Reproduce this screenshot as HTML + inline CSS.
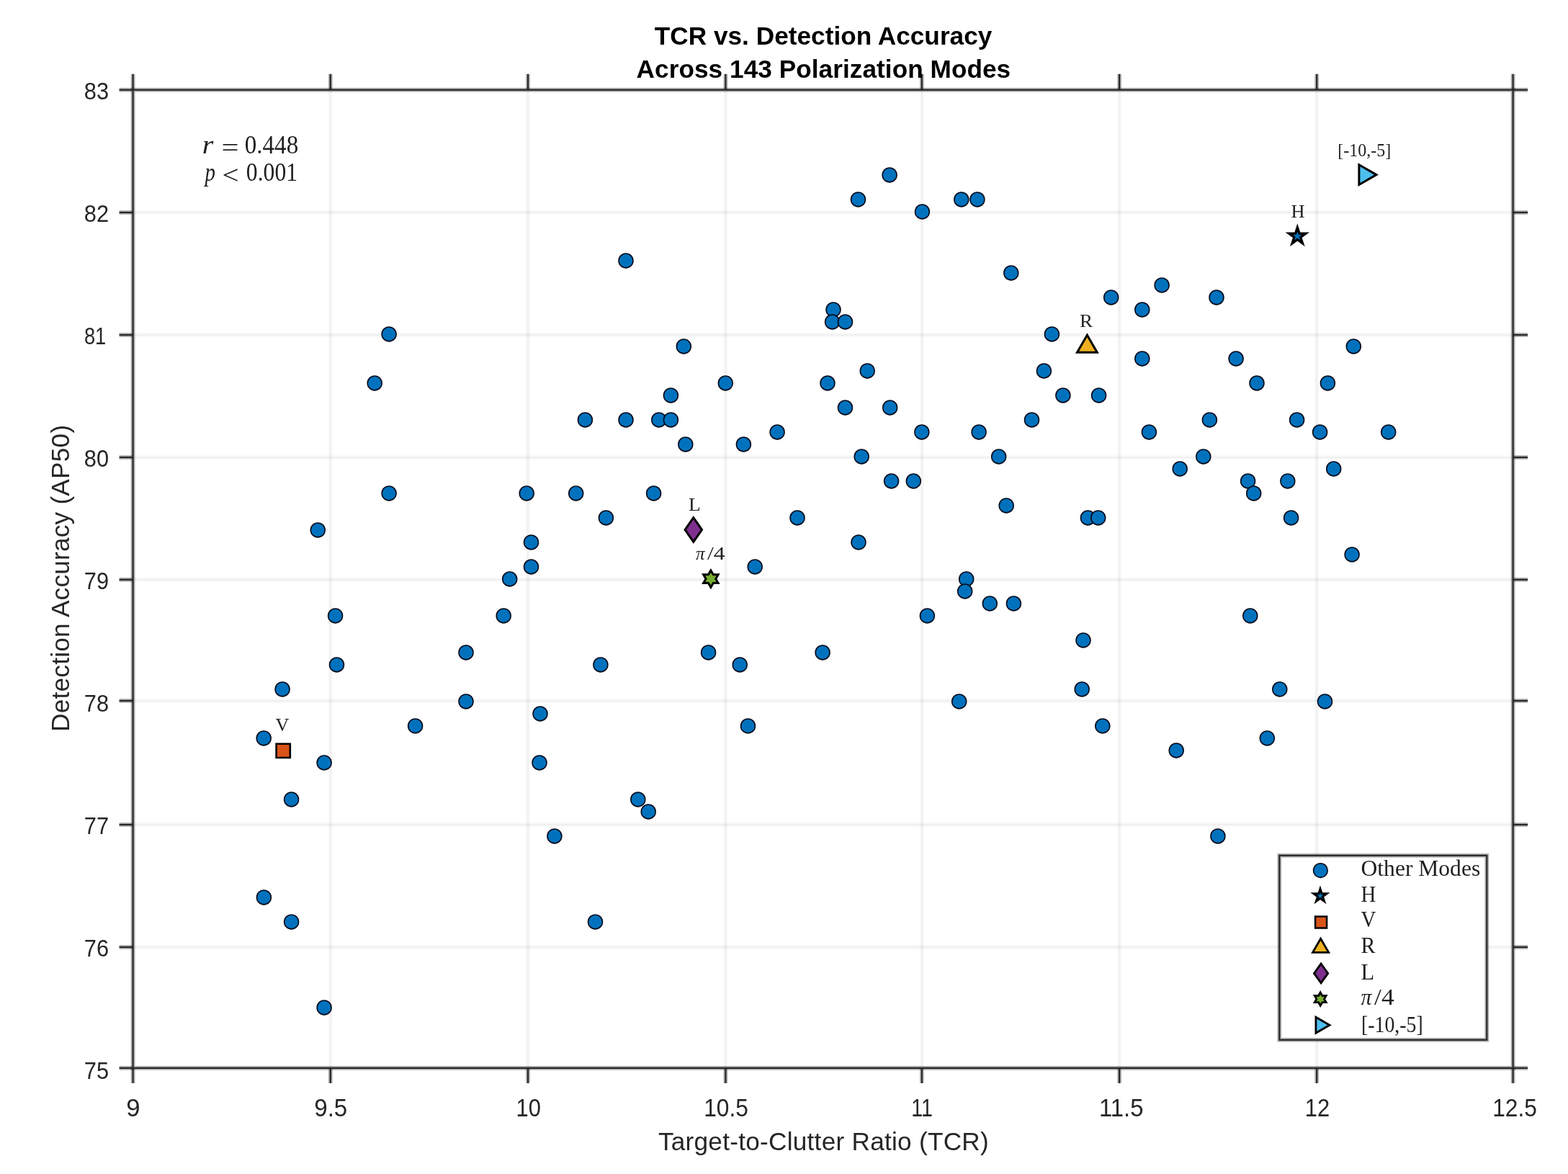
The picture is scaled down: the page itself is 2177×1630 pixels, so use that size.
<!DOCTYPE html>
<html lang="en"><head><meta charset="utf-8"><title>TCR vs. Detection Accuracy</title>
<style>html,body{margin:0;padding:0;background:#fff;}body{width:2177px;height:1630px;overflow:hidden;}svg{display:block;}
.s{font-family:"Liberation Sans",sans-serif;fill:#262626;}
.t{font-family:"Liberation Sans",sans-serif;font-weight:bold;fill:#000;}
.m{font-family:"Liberation Serif",serif;fill:#000;fill-opacity:0.88;}
.c{fill:#0072BD;stroke:#000a1a;stroke-width:1.6;}
.k{stroke:#000;stroke-linejoin:miter;}
</style></head><body>
<svg width="2177" height="1630" viewBox="0 0 2177 1630">
<rect x="0" y="0" width="2177" height="1630" fill="#fff"/>
<g stroke="#000" stroke-opacity="0.024" stroke-width="6.2" fill="none">
<line x1="458.8" y1="124.8" x2="458.8" y2="1482.9"/>
<line x1="733.0" y1="124.8" x2="733.0" y2="1482.9"/>
<line x1="1007.4" y1="124.8" x2="1007.4" y2="1482.9"/>
<line x1="1279.9" y1="124.8" x2="1279.9" y2="1482.9"/>
<line x1="1554.1" y1="124.8" x2="1554.1" y2="1482.9"/>
<line x1="1828.2" y1="124.8" x2="1828.2" y2="1482.9"/>
<line x1="184.6" y1="295.0" x2="2100.6" y2="295.0"/>
<line x1="184.6" y1="465.0" x2="2100.6" y2="465.0"/>
<line x1="184.6" y1="635.0" x2="2100.6" y2="635.0"/>
<line x1="184.6" y1="804.8" x2="2100.6" y2="804.8"/>
<line x1="184.6" y1="973.0" x2="2100.6" y2="973.0"/>
<line x1="184.6" y1="1145.0" x2="2100.6" y2="1145.0"/>
<line x1="184.6" y1="1315.0" x2="2100.6" y2="1315.0"/>
</g>
<g stroke="#000" stroke-opacity="0.034" stroke-width="2.2" fill="none">
<line x1="458.8" y1="124.8" x2="458.8" y2="1482.9"/>
<line x1="733.0" y1="124.8" x2="733.0" y2="1482.9"/>
<line x1="1007.4" y1="124.8" x2="1007.4" y2="1482.9"/>
<line x1="1279.9" y1="124.8" x2="1279.9" y2="1482.9"/>
<line x1="1554.1" y1="124.8" x2="1554.1" y2="1482.9"/>
<line x1="1828.2" y1="124.8" x2="1828.2" y2="1482.9"/>
<line x1="184.6" y1="295.0" x2="2100.6" y2="295.0"/>
<line x1="184.6" y1="465.0" x2="2100.6" y2="465.0"/>
<line x1="184.6" y1="635.0" x2="2100.6" y2="635.0"/>
<line x1="184.6" y1="804.8" x2="2100.6" y2="804.8"/>
<line x1="184.6" y1="973.0" x2="2100.6" y2="973.0"/>
<line x1="184.6" y1="1145.0" x2="2100.6" y2="1145.0"/>
<line x1="184.6" y1="1315.0" x2="2100.6" y2="1315.0"/>
</g>
<g stroke="#262626" stroke-width="5.8" fill="none" stroke-opacity="0.36">
<rect x="184.6" y="124.8" width="1916.0" height="1358.1"/>
<line x1="184.6" y1="1482.9" x2="184.6" y2="1503.9"/>
<line x1="184.6" y1="124.8" x2="184.6" y2="102.8"/>
<line x1="458.8" y1="1482.9" x2="458.8" y2="1503.9"/>
<line x1="458.8" y1="124.8" x2="458.8" y2="102.8"/>
<line x1="733.0" y1="1482.9" x2="733.0" y2="1503.9"/>
<line x1="733.0" y1="124.8" x2="733.0" y2="102.8"/>
<line x1="1007.4" y1="1482.9" x2="1007.4" y2="1503.9"/>
<line x1="1007.4" y1="124.8" x2="1007.4" y2="102.8"/>
<line x1="1279.9" y1="1482.9" x2="1279.9" y2="1503.9"/>
<line x1="1279.9" y1="124.8" x2="1279.9" y2="102.8"/>
<line x1="1554.1" y1="1482.9" x2="1554.1" y2="1503.9"/>
<line x1="1554.1" y1="124.8" x2="1554.1" y2="102.8"/>
<line x1="1828.2" y1="1482.9" x2="1828.2" y2="1503.9"/>
<line x1="1828.2" y1="124.8" x2="1828.2" y2="102.8"/>
<line x1="2100.6" y1="1482.9" x2="2100.6" y2="1503.9"/>
<line x1="2100.6" y1="124.8" x2="2100.6" y2="102.8"/>
<line x1="184.6" y1="124.8" x2="165.6" y2="124.8"/>
<line x1="2100.6" y1="124.8" x2="2121.1" y2="124.8"/>
<line x1="184.6" y1="295.0" x2="165.6" y2="295.0"/>
<line x1="2100.6" y1="295.0" x2="2121.1" y2="295.0"/>
<line x1="184.6" y1="465.0" x2="165.6" y2="465.0"/>
<line x1="2100.6" y1="465.0" x2="2121.1" y2="465.0"/>
<line x1="184.6" y1="635.0" x2="165.6" y2="635.0"/>
<line x1="2100.6" y1="635.0" x2="2121.1" y2="635.0"/>
<line x1="184.6" y1="804.8" x2="165.6" y2="804.8"/>
<line x1="2100.6" y1="804.8" x2="2121.1" y2="804.8"/>
<line x1="184.6" y1="973.0" x2="165.6" y2="973.0"/>
<line x1="2100.6" y1="973.0" x2="2121.1" y2="973.0"/>
<line x1="184.6" y1="1145.0" x2="165.6" y2="1145.0"/>
<line x1="2100.6" y1="1145.0" x2="2121.1" y2="1145.0"/>
<line x1="184.6" y1="1315.0" x2="165.6" y2="1315.0"/>
<line x1="2100.6" y1="1315.0" x2="2121.1" y2="1315.0"/>
<line x1="184.6" y1="1482.9" x2="165.6" y2="1482.9"/>
<line x1="2100.6" y1="1482.9" x2="2121.1" y2="1482.9"/>
</g>
<g stroke="#262626" stroke-width="2.2" fill="none">
<rect x="184.6" y="124.8" width="1916.0" height="1358.1"/>
<line x1="184.6" y1="1482.9" x2="184.6" y2="1503.9"/>
<line x1="184.6" y1="124.8" x2="184.6" y2="102.8"/>
<line x1="458.8" y1="1482.9" x2="458.8" y2="1503.9"/>
<line x1="458.8" y1="124.8" x2="458.8" y2="102.8"/>
<line x1="733.0" y1="1482.9" x2="733.0" y2="1503.9"/>
<line x1="733.0" y1="124.8" x2="733.0" y2="102.8"/>
<line x1="1007.4" y1="1482.9" x2="1007.4" y2="1503.9"/>
<line x1="1007.4" y1="124.8" x2="1007.4" y2="102.8"/>
<line x1="1279.9" y1="1482.9" x2="1279.9" y2="1503.9"/>
<line x1="1279.9" y1="124.8" x2="1279.9" y2="102.8"/>
<line x1="1554.1" y1="1482.9" x2="1554.1" y2="1503.9"/>
<line x1="1554.1" y1="124.8" x2="1554.1" y2="102.8"/>
<line x1="1828.2" y1="1482.9" x2="1828.2" y2="1503.9"/>
<line x1="1828.2" y1="124.8" x2="1828.2" y2="102.8"/>
<line x1="2100.6" y1="1482.9" x2="2100.6" y2="1503.9"/>
<line x1="2100.6" y1="124.8" x2="2100.6" y2="102.8"/>
<line x1="184.6" y1="124.8" x2="165.6" y2="124.8"/>
<line x1="2100.6" y1="124.8" x2="2121.1" y2="124.8"/>
<line x1="184.6" y1="295.0" x2="165.6" y2="295.0"/>
<line x1="2100.6" y1="295.0" x2="2121.1" y2="295.0"/>
<line x1="184.6" y1="465.0" x2="165.6" y2="465.0"/>
<line x1="2100.6" y1="465.0" x2="2121.1" y2="465.0"/>
<line x1="184.6" y1="635.0" x2="165.6" y2="635.0"/>
<line x1="2100.6" y1="635.0" x2="2121.1" y2="635.0"/>
<line x1="184.6" y1="804.8" x2="165.6" y2="804.8"/>
<line x1="2100.6" y1="804.8" x2="2121.1" y2="804.8"/>
<line x1="184.6" y1="973.0" x2="165.6" y2="973.0"/>
<line x1="2100.6" y1="973.0" x2="2121.1" y2="973.0"/>
<line x1="184.6" y1="1145.0" x2="165.6" y2="1145.0"/>
<line x1="2100.6" y1="1145.0" x2="2121.1" y2="1145.0"/>
<line x1="184.6" y1="1315.0" x2="165.6" y2="1315.0"/>
<line x1="2100.6" y1="1315.0" x2="2121.1" y2="1315.0"/>
<line x1="184.6" y1="1482.9" x2="165.6" y2="1482.9"/>
<line x1="2100.6" y1="1482.9" x2="2121.1" y2="1482.9"/>
</g>
<text class="s" font-size="34.5" x="175.39" y="1550.00" textLength="19.30" lengthAdjust="spacingAndGlyphs">9</text>
<text class="s" font-size="34.5" x="436.24" y="1550.00" textLength="46.00" lengthAdjust="spacingAndGlyphs">9.5</text>
<text class="s" font-size="34.5" x="716.61" y="1550.00" textLength="34.35" lengthAdjust="spacingAndGlyphs">10</text>
<text class="s" font-size="34.5" x="977.16" y="1550.00" textLength="61.73" lengthAdjust="spacingAndGlyphs">10.5</text>
<text class="s" font-size="34.5" x="1265.24" y="1550.00" textLength="29.75" lengthAdjust="spacingAndGlyphs">11</text>
<text class="s" font-size="34.5" x="1525.89" y="1550.00" textLength="61.64" lengthAdjust="spacingAndGlyphs">11.5</text>
<text class="s" font-size="34.5" x="1811.81" y="1550.00" textLength="34.35" lengthAdjust="spacingAndGlyphs">12</text>
<text class="s" font-size="34.5" x="2072.16" y="1550.00" textLength="61.73" lengthAdjust="spacingAndGlyphs">12.5</text>
<text class="s" font-size="33.9" x="116.79" y="137.70" textLength="34.28" lengthAdjust="spacingAndGlyphs">83</text>
<text class="s" font-size="33.9" x="116.79" y="307.70" textLength="34.28" lengthAdjust="spacingAndGlyphs">82</text>
<text class="s" font-size="33.9" x="116.89" y="477.70" textLength="30.39" lengthAdjust="spacingAndGlyphs">81</text>
<text class="s" font-size="33.9" x="116.79" y="647.70" textLength="34.28" lengthAdjust="spacingAndGlyphs">80</text>
<text class="s" font-size="33.9" x="116.79" y="817.70" textLength="34.28" lengthAdjust="spacingAndGlyphs">79</text>
<text class="s" font-size="33.9" x="116.79" y="987.70" textLength="34.28" lengthAdjust="spacingAndGlyphs">78</text>
<text class="s" font-size="33.9" x="116.79" y="1157.70" textLength="34.28" lengthAdjust="spacingAndGlyphs">77</text>
<text class="s" font-size="33.9" x="116.79" y="1327.70" textLength="34.28" lengthAdjust="spacingAndGlyphs">76</text>
<text class="s" font-size="33.9" x="116.79" y="1497.70" textLength="34.28" lengthAdjust="spacingAndGlyphs">75</text>
<text class="s" font-size="35.2" x="913.90" y="1596.50" textLength="458.82" lengthAdjust="spacing">Target-to-Clutter Ratio (TCR)</text>
<g transform="translate(96.2,1013.9) rotate(-90)">
<text class="s" font-size="35.2" x="-2.00" y="0.00" textLength="426.02" lengthAdjust="spacing">Detection Accuracy (AP50)</text>
</g>
<text class="t" font-size="35.2" x="908.70" y="61.80" textLength="468.67" lengthAdjust="spacing">TCR vs. Detection Accuracy</text>
<text class="t" font-size="35.2" x="883.60" y="107.80" textLength="519.57" lengthAdjust="spacing">Across 143 Polarization Modes</text>
<text class="m" font-size="35" x="280.75" y="213.00" textLength="15.61" lengthAdjust="spacingAndGlyphs" font-style="italic">r</text>
<text class="m" font-size="35" x="307.58" y="217.00" textLength="24.02" lengthAdjust="spacingAndGlyphs">=</text>
<text class="m" font-size="35" x="339.65" y="213.00" textLength="74.62" lengthAdjust="spacingAndGlyphs">0.448</text>
<text class="m" font-size="35" x="284.38" y="251.40" textLength="14.44" lengthAdjust="spacingAndGlyphs" font-style="italic">p</text>
<text class="m" font-size="35" x="308.43" y="255.20" textLength="23.14" lengthAdjust="spacingAndGlyphs">&lt;</text>
<text class="m" font-size="35" x="341.80" y="251.40" textLength="71.26" lengthAdjust="spacingAndGlyphs">0.001</text>
<g class="c">
<circle cx="540.1" cy="463.9" r="9.95"/>
<circle cx="520.2" cy="531.9" r="9.95"/>
<circle cx="540.1" cy="684.9" r="9.95"/>
<circle cx="441.3" cy="735.9" r="9.95"/>
<circle cx="731.2" cy="684.9" r="9.95"/>
<circle cx="737.5" cy="752.9" r="9.95"/>
<circle cx="737.5" cy="786.9" r="9.95"/>
<circle cx="707.7" cy="803.9" r="9.95"/>
<circle cx="1235.1" cy="242.9" r="9.95"/>
<circle cx="1191.5" cy="276.9" r="9.95"/>
<circle cx="1280.4" cy="293.9" r="9.95"/>
<circle cx="869.0" cy="361.9" r="9.95"/>
<circle cx="1157.0" cy="429.9" r="9.95"/>
<circle cx="1155.6" cy="446.9" r="9.95"/>
<circle cx="1173.5" cy="446.9" r="9.95"/>
<circle cx="949.3" cy="480.9" r="9.95"/>
<circle cx="1204.2" cy="514.9" r="9.95"/>
<circle cx="1007.3" cy="531.9" r="9.95"/>
<circle cx="1149.0" cy="531.9" r="9.95"/>
<circle cx="931.4" cy="548.9" r="9.95"/>
<circle cx="1334.8" cy="276.9" r="9.95"/>
<circle cx="1356.9" cy="276.9" r="9.95"/>
<circle cx="1403.8" cy="378.9" r="9.95"/>
<circle cx="1613.1" cy="395.9" r="9.95"/>
<circle cx="1542.7" cy="412.9" r="9.95"/>
<circle cx="1689.0" cy="412.9" r="9.95"/>
<circle cx="1585.8" cy="429.9" r="9.95"/>
<circle cx="1460.4" cy="463.9" r="9.95"/>
<circle cx="1585.8" cy="497.9" r="9.95"/>
<circle cx="1716.1" cy="497.9" r="9.95"/>
<circle cx="1449.4" cy="514.9" r="9.95"/>
<circle cx="1745.0" cy="531.9" r="9.95"/>
<circle cx="1843.4" cy="531.9" r="9.95"/>
<circle cx="1475.9" cy="548.9" r="9.95"/>
<circle cx="1525.6" cy="548.9" r="9.95"/>
<circle cx="1879.3" cy="480.9" r="9.95"/>
<circle cx="1173.5" cy="565.9" r="9.95"/>
<circle cx="1235.7" cy="565.9" r="9.95"/>
<circle cx="812.4" cy="582.9" r="9.95"/>
<circle cx="869.0" cy="582.9" r="9.95"/>
<circle cx="914.8" cy="582.9" r="9.95"/>
<circle cx="931.4" cy="582.9" r="9.95"/>
<circle cx="1079.1" cy="599.9" r="9.95"/>
<circle cx="1279.8" cy="599.9" r="9.95"/>
<circle cx="951.8" cy="616.9" r="9.95"/>
<circle cx="1032.4" cy="616.9" r="9.95"/>
<circle cx="1196.2" cy="633.9" r="9.95"/>
<circle cx="1237.6" cy="667.9" r="9.95"/>
<circle cx="1268.3" cy="667.9" r="9.95"/>
<circle cx="799.7" cy="684.9" r="9.95"/>
<circle cx="907.6" cy="684.9" r="9.95"/>
<circle cx="841.4" cy="718.9" r="9.95"/>
<circle cx="1107.0" cy="718.9" r="9.95"/>
<circle cx="1192.0" cy="752.9" r="9.95"/>
<circle cx="1048.2" cy="786.9" r="9.95"/>
<circle cx="699.2" cy="854.9" r="9.95"/>
<circle cx="1287.4" cy="854.9" r="9.95"/>
<circle cx="983.6" cy="905.9" r="9.95"/>
<circle cx="1142.1" cy="905.9" r="9.95"/>
<circle cx="833.9" cy="922.9" r="9.95"/>
<circle cx="1027.2" cy="922.9" r="9.95"/>
<circle cx="1432.5" cy="582.9" r="9.95"/>
<circle cx="1679.4" cy="582.9" r="9.95"/>
<circle cx="1800.6" cy="582.9" r="9.95"/>
<circle cx="1359.1" cy="599.9" r="9.95"/>
<circle cx="1595.4" cy="599.9" r="9.95"/>
<circle cx="1832.6" cy="599.9" r="9.95"/>
<circle cx="1386.7" cy="633.9" r="9.95"/>
<circle cx="1670.8" cy="633.9" r="9.95"/>
<circle cx="1638.2" cy="650.9" r="9.95"/>
<circle cx="1851.7" cy="650.9" r="9.95"/>
<circle cx="1732.6" cy="667.9" r="9.95"/>
<circle cx="1787.8" cy="667.9" r="9.95"/>
<circle cx="1740.7" cy="684.9" r="9.95"/>
<circle cx="1397.2" cy="701.9" r="9.95"/>
<circle cx="1510.4" cy="718.9" r="9.95"/>
<circle cx="1524.7" cy="718.9" r="9.95"/>
<circle cx="1792.6" cy="718.9" r="9.95"/>
<circle cx="1341.7" cy="803.9" r="9.95"/>
<circle cx="1339.7" cy="820.9" r="9.95"/>
<circle cx="1374.3" cy="837.9" r="9.95"/>
<circle cx="1407.4" cy="837.9" r="9.95"/>
<circle cx="1735.8" cy="854.9" r="9.95"/>
<circle cx="1504.0" cy="888.9" r="9.95"/>
<circle cx="1502.2" cy="956.9" r="9.95"/>
<circle cx="1776.8" cy="956.9" r="9.95"/>
<circle cx="1927.7" cy="599.9" r="9.95"/>
<circle cx="1877.1" cy="769.9" r="9.95"/>
<circle cx="465.6" cy="854.9" r="9.95"/>
<circle cx="647.0" cy="905.9" r="9.95"/>
<circle cx="467.5" cy="922.9" r="9.95"/>
<circle cx="392.1" cy="956.9" r="9.95"/>
<circle cx="647.0" cy="973.9" r="9.95"/>
<circle cx="750.0" cy="990.9" r="9.95"/>
<circle cx="576.6" cy="1007.9" r="9.95"/>
<circle cx="366.2" cy="1024.9" r="9.95"/>
<circle cx="450.1" cy="1058.9" r="9.95"/>
<circle cx="749.0" cy="1058.9" r="9.95"/>
<circle cx="404.6" cy="1109.9" r="9.95"/>
<circle cx="366.4" cy="1245.9" r="9.95"/>
<circle cx="404.6" cy="1279.9" r="9.95"/>
<circle cx="450.1" cy="1398.9" r="9.95"/>
<circle cx="1038.5" cy="1007.9" r="9.95"/>
<circle cx="885.8" cy="1109.9" r="9.95"/>
<circle cx="900.2" cy="1126.9" r="9.95"/>
<circle cx="769.9" cy="1160.9" r="9.95"/>
<circle cx="826.5" cy="1279.9" r="9.95"/>
<circle cx="1331.7" cy="973.9" r="9.95"/>
<circle cx="1839.5" cy="973.9" r="9.95"/>
<circle cx="1530.8" cy="1007.9" r="9.95"/>
<circle cx="1759.3" cy="1024.9" r="9.95"/>
<circle cx="1633.2" cy="1041.9" r="9.95"/>
<circle cx="1690.9" cy="1160.9" r="9.95"/>
</g>
<polygon class="k" fill="#0072BD" points="1801.30,315.80 1804.04,324.23 1812.90,324.23 1805.73,329.44 1808.47,337.87 1801.30,332.66 1794.13,337.87 1796.87,329.44 1789.70,324.23 1798.56,324.23" stroke-width="3.4"/>
<polygon class="k" fill="#D95319" points="383.60,1032.80 402.80,1032.80 402.80,1052.00 383.60,1052.00" stroke-width="2.6"/>
<polygon class="k" fill="#EDB120" points="1509.40,465.20 1523.26,489.20 1495.54,489.20" stroke-width="3"/>
<polygon class="k" fill="#7E2F8E" points="962.80,718.70 974.50,735.50 962.80,752.30 951.10,735.50" stroke-width="3"/>
<polygon class="k" fill="#77AC30" points="986.90,791.90 990.30,797.80 997.12,797.80 993.71,803.70 997.12,809.60 990.30,809.60 986.90,815.50 983.50,809.60 976.68,809.60 980.09,803.70 976.68,797.80 983.50,797.80" stroke-width="3"/>
<polygon class="k" fill="#4DBEEE" points="1910.90,242.60 1886.90,256.46 1886.90,228.74" stroke-width="3"/>
<text class="m" font-size="26" x="1792.50" y="301.90" textLength="19.07" lengthAdjust="spacingAndGlyphs">H</text>
<text class="m" font-size="26" x="1499.10" y="453.70" textLength="18.11" lengthAdjust="spacingAndGlyphs">R</text>
<text class="m" font-size="26" x="956.10" y="708.90" textLength="16.73" lengthAdjust="spacingAndGlyphs">L</text>
<text class="m" font-size="26" x="382.50" y="1014.60" textLength="18.78" lengthAdjust="spacingAndGlyphs">V</text>
<text class="m" font-size="26" x="966.10" y="776.70" textLength="12.56" lengthAdjust="spacingAndGlyphs" font-style="italic">π</text>
<text class="m" font-size="26" x="982.00" y="776.70" textLength="24.70" lengthAdjust="spacingAndGlyphs">/4</text>
<text class="m" font-size="26" x="1857.28" y="216.80" textLength="73.95" lengthAdjust="spacingAndGlyphs">[-10,-5]</text>
<rect x="1776.3" y="1187.8" width="288.0" height="256.0" fill="#fff" stroke="#262626" stroke-width="5.8" stroke-opacity="0.36"/>
<rect x="1776.3" y="1187.8" width="288.0" height="256.0" fill="none" stroke="#262626" stroke-width="2.2"/>
<circle class="c" cx="1833.4" cy="1208.6" r="9.8"/>
<polygon class="k" fill="#0072BD" points="1833.00,1234.20 1835.13,1240.76 1842.04,1240.76 1836.45,1244.82 1838.58,1251.39 1833.00,1247.33 1827.42,1251.39 1829.55,1244.82 1823.96,1240.76 1830.87,1240.76" stroke-width="3"/>
<polygon class="k" fill="#D95319" points="1826.10,1272.40 1842.10,1272.40 1842.10,1288.40 1826.10,1288.40" stroke-width="2.5"/>
<polygon class="k" fill="#EDB120" points="1833.60,1303.20 1844.68,1322.40 1822.52,1322.40" stroke-width="2.8"/>
<polygon class="k" fill="#7E2F8E" points="1834.10,1338.00 1843.70,1351.40 1834.10,1364.80 1824.50,1351.40" stroke-width="2.8"/>
<polygon class="k" fill="#77AC30" points="1833.20,1377.90 1835.85,1382.50 1841.17,1382.50 1838.51,1387.10 1841.17,1391.70 1835.85,1391.70 1833.20,1396.30 1830.55,1391.70 1825.23,1391.70 1827.89,1387.10 1825.23,1382.50 1830.55,1382.50" stroke-width="2.8"/>
<polygon class="k" fill="#4DBEEE" points="1846.00,1423.20 1826.95,1434.20 1826.95,1412.20" stroke-width="2.8"/>
<text class="m" font-size="30.5" x="1889.57" y="1216.30" textLength="165.63" lengthAdjust="spacingAndGlyphs">Other Modes</text>
<text class="m" font-size="30.5" x="1889.60" y="1251.70" textLength="20.82" lengthAdjust="spacingAndGlyphs">H</text>
<text class="m" font-size="30.5" x="1889.60" y="1287.00" textLength="20.82" lengthAdjust="spacingAndGlyphs">V</text>
<text class="m" font-size="30.5" x="1889.60" y="1323.00" textLength="19.96" lengthAdjust="spacingAndGlyphs">R</text>
<text class="m" font-size="30.5" x="1889.60" y="1360.00" textLength="18.63" lengthAdjust="spacingAndGlyphs">L</text>
<text class="m" font-size="30.5" x="1889.60" y="1395.00" textLength="14.99" lengthAdjust="spacingAndGlyphs" font-style="italic">π</text>
<text class="m" font-size="30.5" x="1908.10" y="1395.00" textLength="27.69" lengthAdjust="spacingAndGlyphs">/4</text>
<text class="m" font-size="30.5" x="1889.98" y="1433.00" textLength="85.69" lengthAdjust="spacingAndGlyphs">[-10,-5]</text>
</svg></body></html>
